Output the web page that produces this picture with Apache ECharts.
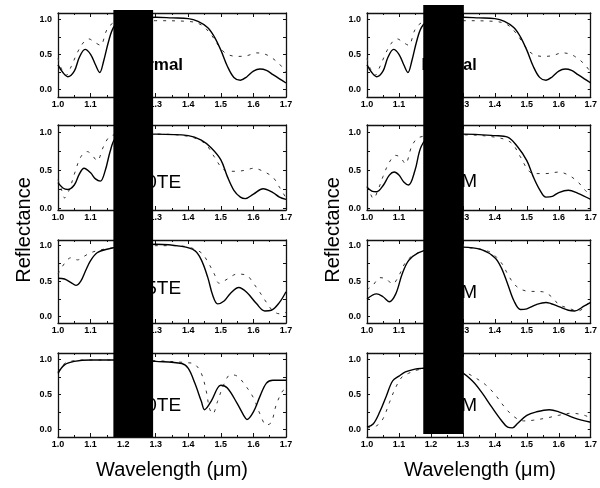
<!DOCTYPE html>
<html><head><meta charset="utf-8">
<script src="https://cdn.jsdelivr.net/npm/echarts@6/dist/echarts.min.js"></script>
<style>html,body{margin:0;padding:0;background:#fff}#c{width:600px;height:488px}</style>
</head><body><div id="c"></div>
<script>
// ---- data (wavelength in µm, reflectance) ----
const xTicks = [1.0, 1.1, 1.2, 1.3, 1.4, 1.5, 1.6, 1.7];
const yTickLabels = [0.0, 0.5, 1.0];

const normalSolid = [[1.0,0.35],[1.015,0.24],[1.03,0.18],[1.05,0.26],[1.065,0.45],[1.083,0.57],[1.1,0.5],[1.115,0.35],[1.128,0.24],[1.14,0.4],[1.155,0.68],[1.17,0.88],[1.19,0.97],[1.22,1.0],[1.26,1.02],[1.3,1.03],[1.35,1.02],[1.4,1.01],[1.43,0.97],[1.46,0.88],[1.48,0.75],[1.5,0.56],[1.52,0.33],[1.54,0.17],[1.56,0.13],[1.58,0.18],[1.6,0.26],[1.62,0.29],[1.64,0.27],[1.66,0.21],[1.68,0.15],[1.7,0.09]];
const normalDashed = [[1.0,0.44],[1.01,0.3],[1.025,0.2],[1.04,0.32],[1.06,0.53],[1.08,0.68],[1.095,0.72],[1.11,0.68],[1.13,0.63],[1.15,0.85],[1.17,0.95],[1.2,0.98],[1.3,0.98],[1.4,0.97],[1.44,0.92],[1.47,0.78],[1.5,0.58],[1.52,0.5],[1.55,0.47],[1.58,0.48],[1.61,0.52],[1.63,0.51],[1.65,0.47],[1.68,0.36],[1.7,0.24]];

const te30Solid = [[1.0,0.34],[1.015,0.27],[1.03,0.25],[1.05,0.31],[1.065,0.45],[1.08,0.53],[1.1,0.47],[1.115,0.39],[1.13,0.36],[1.145,0.5],[1.16,0.75],[1.175,0.92],[1.2,0.97],[1.3,0.98],[1.4,0.96],[1.44,0.9],[1.47,0.8],[1.5,0.64],[1.52,0.42],[1.54,0.24],[1.56,0.15],[1.575,0.13],[1.6,0.19],[1.63,0.26],[1.66,0.21],[1.68,0.15],[1.7,0.12]];
const te30Dashed = [[1.0,0.38],[1.01,0.26],[1.02,0.14],[1.035,0.25],[1.05,0.45],[1.07,0.68],[1.09,0.75],[1.105,0.7],[1.12,0.63],[1.14,0.82],[1.16,0.95],[1.2,0.98],[1.3,0.98],[1.4,0.95],[1.45,0.86],[1.48,0.68],[1.5,0.55],[1.52,0.49],[1.55,0.49],[1.58,0.51],[1.6,0.53],[1.63,0.49],[1.66,0.41],[1.68,0.28],[1.7,0.14]];

const te45Solid = [[1.0,0.54],[1.02,0.53],[1.04,0.48],[1.055,0.44],[1.07,0.5],[1.085,0.65],[1.1,0.79],[1.12,0.9],[1.15,0.95],[1.2,0.99],[1.3,1.02],[1.38,0.99],[1.42,0.93],[1.44,0.8],[1.46,0.55],[1.475,0.3],[1.49,0.18],[1.51,0.22],[1.53,0.33],[1.555,0.41],[1.58,0.34],[1.61,0.18],[1.635,0.08],[1.655,0.09],[1.68,0.2],[1.7,0.35]];
const te45Dashed = [[1.0,0.6],[1.02,0.75],[1.04,0.83],[1.06,0.8],[1.08,0.85],[1.1,0.9],[1.13,0.94],[1.17,0.97],[1.25,1.0],[1.35,1.0],[1.4,0.98],[1.44,0.9],[1.46,0.77],[1.48,0.6],[1.495,0.47],[1.52,0.53],[1.55,0.6],[1.58,0.58],[1.6,0.47],[1.62,0.34],[1.64,0.2],[1.66,0.08],[1.68,0.04],[1.7,0.06]];

const te60Solid = [[1.0,0.8],[1.02,0.92],[1.05,0.97],[1.1,0.99],[1.2,0.99],[1.3,0.97],[1.38,0.94],[1.4,0.87],[1.42,0.66],[1.44,0.4],[1.45,0.28],[1.47,0.4],[1.49,0.59],[1.5,0.63],[1.52,0.59],[1.55,0.37],[1.57,0.2],[1.58,0.14],[1.6,0.25],[1.62,0.47],[1.64,0.66],[1.66,0.7],[1.7,0.7]];
const te60Dashed = [[1.0,0.82],[1.02,0.94],[1.05,0.98],[1.1,0.99],[1.2,0.99],[1.3,0.98],[1.4,0.95],[1.42,0.93],[1.44,0.8],[1.455,0.55],[1.465,0.3],[1.475,0.22],[1.49,0.4],[1.51,0.65],[1.53,0.78],[1.55,0.76],[1.57,0.66],[1.6,0.45],[1.62,0.22],[1.64,0.06],[1.655,0.1],[1.67,0.35],[1.69,0.55],[1.7,0.57]];

const tm30Solid = [[1.0,0.28],[1.015,0.23],[1.03,0.22],[1.05,0.3],[1.07,0.44],[1.085,0.48],[1.1,0.44],[1.115,0.35],[1.13,0.31],[1.15,0.5],[1.17,0.82],[1.2,0.95],[1.3,0.98],[1.4,0.96],[1.44,0.94],[1.47,0.82],[1.5,0.63],[1.52,0.42],[1.54,0.25],[1.56,0.15],[1.58,0.16],[1.6,0.21],[1.63,0.24],[1.66,0.2],[1.7,0.12]];
const tm30Dashed = [[1.0,0.29],[1.01,0.2],[1.02,0.13],[1.035,0.25],[1.05,0.42],[1.07,0.61],[1.09,0.7],[1.105,0.67],[1.12,0.59],[1.14,0.82],[1.16,0.93],[1.2,0.96],[1.3,0.97],[1.4,0.94],[1.45,0.87],[1.48,0.68],[1.5,0.53],[1.52,0.46],[1.56,0.46],[1.6,0.48],[1.63,0.44],[1.66,0.35],[1.68,0.25],[1.7,0.18]];

const tm45Solid = [[1.0,0.25],[1.03,0.32],[1.05,0.28],[1.07,0.21],[1.09,0.32],[1.11,0.6],[1.13,0.79],[1.16,0.9],[1.2,0.95],[1.3,0.98],[1.36,0.94],[1.4,0.83],[1.42,0.69],[1.44,0.46],[1.46,0.22],[1.48,0.1],[1.5,0.11],[1.53,0.17],[1.56,0.2],[1.6,0.14],[1.63,0.09],[1.65,0.08],[1.68,0.15],[1.7,0.2]];
const tm45Dashed = [[1.0,0.38],[1.02,0.45],[1.04,0.55],[1.06,0.53],[1.08,0.46],[1.1,0.58],[1.12,0.76],[1.15,0.88],[1.2,0.94],[1.3,0.97],[1.38,0.92],[1.42,0.76],[1.44,0.6],[1.46,0.46],[1.48,0.39],[1.5,0.36],[1.55,0.35],[1.58,0.27],[1.6,0.17],[1.63,0.12],[1.66,0.08],[1.68,0.13],[1.7,0.23]];

const tm60Solid = [[1.0,0.03],[1.02,0.08],[1.04,0.25],[1.06,0.47],[1.08,0.69],[1.1,0.76],[1.12,0.82],[1.15,0.86],[1.17,0.87],[1.22,0.88],[1.26,0.86],[1.29,0.83],[1.33,0.69],[1.36,0.52],[1.39,0.32],[1.42,0.13],[1.44,0.03],[1.455,0.02],[1.47,0.08],[1.5,0.2],[1.53,0.25],[1.57,0.28],[1.6,0.25],[1.65,0.16],[1.7,0.1]];
const tm60Dashed = [[1.0,0.02],[1.03,0.05],[1.05,0.15],[1.07,0.38],[1.09,0.6],[1.11,0.75],[1.13,0.8],[1.16,0.85],[1.22,0.87],[1.27,0.86],[1.3,0.83],[1.33,0.76],[1.37,0.64],[1.4,0.5],[1.43,0.32],[1.46,0.18],[1.49,0.12],[1.52,0.13],[1.56,0.16],[1.6,0.2],[1.64,0.23],[1.68,0.2],[1.7,0.16]];

const leftLabels = ['Normal', '30TE', '45TE', '60TE'];
const rightLabels = ['Normal', '30TM', '45TM', '60TM'];
const yTitle = 'Reflectance';
const xTitle = 'Wavelength (\u03bcm)';

// ---- layout ----
const FONT = '"Liberation Sans", Arial, sans-serif';
const cols = [{left: 58, width: 228}, {left: 367, width: 226}];
const rows = [
  {top: 13, height: 84, min: -0.11, max: 1.09},
  {top: 125, height: 85, min: -0.02, max: 1.10},
  {top: 240, height: 83, min: -0.09, max: 1.08},
  {top: 353, height: 84, min: -0.11, max: 1.09}
];
const panels = [
  {col: 0, row: 0, solid: normalSolid, dashed: normalDashed, label: leftLabels[0], lx: 1.384, ly: 0.34, font: 'bold 17px '},
  {col: 0, row: 1, solid: te30Solid, dashed: te30Dashed, label: leftLabels[1], lx: 1.378, ly: 0.34, font: '19px '},
  {col: 0, row: 2, solid: te45Solid, dashed: te45Dashed, label: leftLabels[2], lx: 1.378, ly: 0.39, font: '19px '},
  {col: 0, row: 3, solid: te60Solid, dashed: te60Dashed, label: leftLabels[3], lx: 1.378, ly: 0.33, font: '19px '},
  {col: 1, row: 0, solid: normalSolid, dashed: normalDashed, label: rightLabels[0], lx: 1.343, ly: 0.34, font: 'bold 16px '},
  {col: 1, row: 1, solid: tm30Solid, dashed: tm30Dashed, label: rightLabels[1], lx: 1.344, ly: 0.35, font: '19px '},
  {col: 1, row: 2, solid: tm45Solid, dashed: tm45Dashed, label: rightLabels[2], lx: 1.344, ly: 0.33, font: '19px '},
  {col: 1, row: 3, solid: tm60Solid, dashed: tm60Dashed, label: rightLabels[3], lx: 1.344, ly: 0.34, font: '19px '}
];
const redact = [[1.17, 1.292], [1.176, 1.303]];

const grid = [], xAxis = [], yAxis = [], series = [];
const lineCol = '#111';
panels.forEach((p, i) => {
  const c = cols[p.col], r = rows[p.row];
  grid.push({left: c.left, top: r.top, width: c.width, height: r.height, show: false, containLabel: false});
  const xBase = {
    type: 'value', gridIndex: i, min: xTicks[0], max: xTicks[xTicks.length - 1], interval: 0.1,
    axisLine: {show: true, onZero: false, lineStyle: {color: lineCol, width: 1.3}},
    axisTick: {show: true, inside: true, length: 4, lineStyle: {color: lineCol, width: 1}},
    minorTick: {show: true, splitNumber: 2, length: 2, lineStyle: {color: lineCol, width: 1}},
    splitLine: {show: false}
  };
  xAxis.push(Object.assign({}, xBase, {position: 'bottom',
    axisLabel: {show: true, margin: 3, fontSize: 9, fontWeight: 'bold', fontFamily: FONT, color: '#000',
      formatter: v => Number(v).toFixed(1)}}));
  xAxis.push(Object.assign({}, xBase, {position: 'top', axisLabel: {show: false}}));
  const yBase = {
    type: 'value', gridIndex: i, min: r.min, max: r.max,
    axisLine: {show: true, onZero: false, lineStyle: {color: lineCol, width: 1.3}},
    axisTick: {show: true, inside: true, length: 3, customValues: [0, 0.25, 0.5, 0.75, 1.0], lineStyle: {color: lineCol, width: 1}},
    splitLine: {show: false}
  };
  yAxis.push(Object.assign({}, yBase, {position: 'left',
    axisLabel: {show: true, margin: 6, fontSize: 9, fontWeight: 'bold', fontFamily: FONT, color: '#000',
      customValues: yTickLabels, formatter: v => Number(v).toFixed(1)}}));
  yAxis.push(Object.assign({}, yBase, {position: 'right', axisLabel: {show: false}}));
  series.push({type: 'line', xAxisIndex: 2 * i, yAxisIndex: 2 * i, data: p.dashed, showSymbol: false,
    smooth: 0.35, lineStyle: {color: '#333', width: 1, type: [3, 6]}, z: 3, silent: true});
  series.push({type: 'line', xAxisIndex: 2 * i, yAxisIndex: 2 * i, data: p.solid, showSymbol: false,
    smooth: 0.35, lineStyle: {color: '#000', width: 1.4}, z: 4, silent: true});
});

const chart = echarts.init(document.getElementById('c'), null, {renderer: 'canvas'});
chart.setOption({animation: false, backgroundColor: '#fff', grid, xAxis, yAxis, series});

// overlays: panel labels, axis titles, redaction bars
const g = [];
panels.forEach((p, i) => {
  const pt = chart.convertToPixel({gridIndex: i}, [p.lx, p.ly]);
  g.push({type: 'text', x: pt[0], y: pt[1], z: 50,
    style: {text: p.label, fill: '#000', font: p.font + FONT, align: 'right', verticalAlign: 'middle'}});
});
cols.forEach((c, ci) => {
  const topG = ci * 4;
  const gTop = rows[0].top, gBot = rows[3].top + rows[3].height;
  const yMid = (rows[1].top + rows[2].top + rows[2].height) / 2 + 6;
  g.push({type: 'text', x: c.left - 34, y: yMid, rotation: Math.PI / 2, z: 50,
    style: {text: yTitle, fill: '#000', font: '20px ' + FONT, align: 'center', verticalAlign: 'middle'}});
  g.push({type: 'text', x: c.left + c.width / 2, y: 470, z: 50,
    style: {text: xTitle, fill: '#000', font: '20px ' + FONT, align: 'center', verticalAlign: 'middle'}});
  const x0 = chart.convertToPixel({xAxisIndex: topG * 2}, redact[ci][0]);
  const x1 = chart.convertToPixel({xAxisIndex: topG * 2}, redact[ci][1]);
  const yTop = gTop - 3 - ci * 5, yBot = gBot - ci * 3;
  g.push({type: 'rect', z: 100, shape: {x: x0, y: yTop, width: x1 - x0, height: yBot - yTop},
    style: {fill: '#000'}});
});
chart.setOption({graphic: g});
</script></body></html>
